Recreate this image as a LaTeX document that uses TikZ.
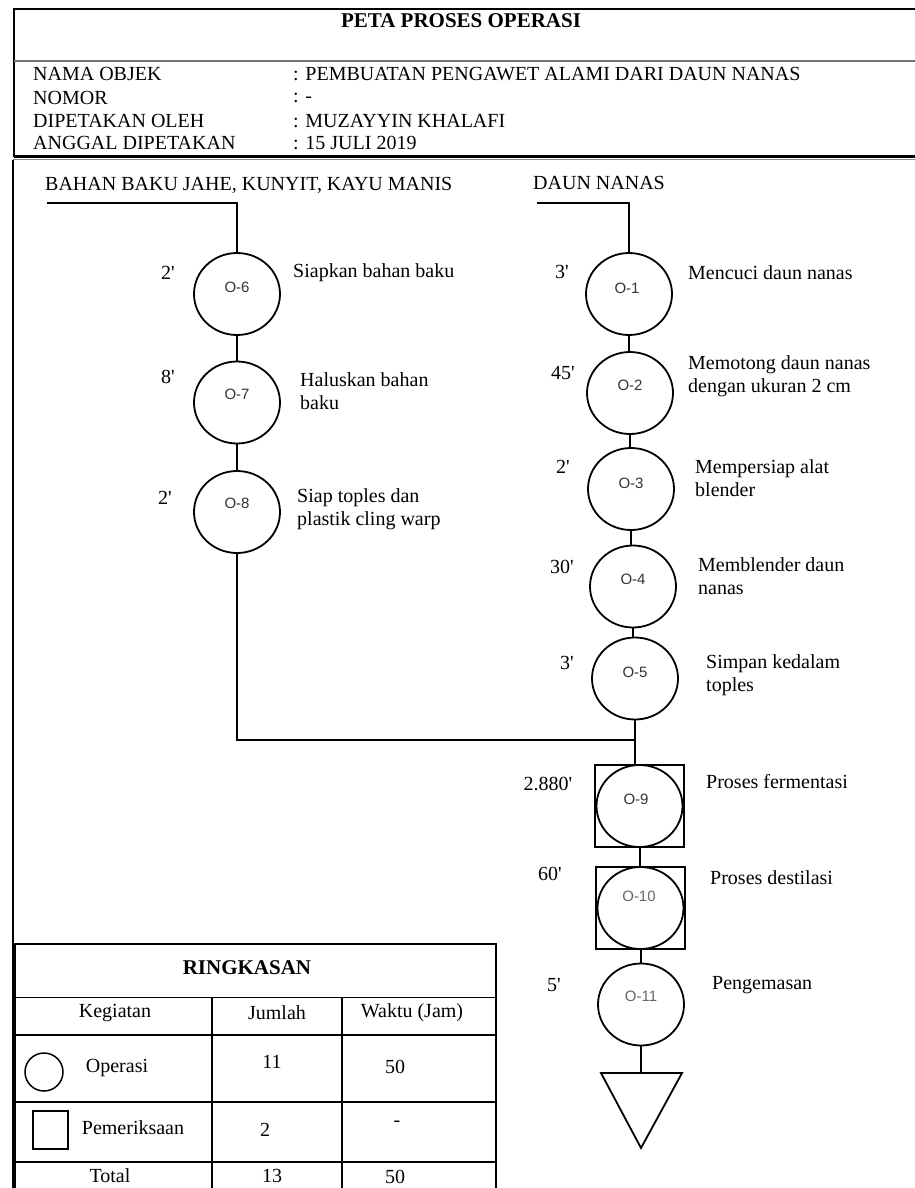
\documentclass[tikz,border=0pt]{standalone}
\usepackage{fontspec}
\setmainfont{Liberation Serif}
\setsansfont{Liberation Sans}
\usetikzlibrary{shapes.geometric}

\begin{document}
\begin{tikzpicture}[x=1pt,y=-1pt,
  txt/.style={font=\fontsize{20}{23.5}\selectfont, inner sep=0pt, align=left},
  desc/.style={txt, anchor=west},
  hd/.style={txt, anchor=west},
  tm/.style={txt},
  boldtxt/.style={font=\bfseries\fontsize{21}{24}\selectfont, inner sep=0pt},
  opc/.style={draw, ellipse, line width=1.8pt, minimum width=86pt, minimum height=82pt, inner sep=0pt},
  insp/.style={draw, rectangle, line width=2pt, minimum width=89pt, minimum height=82pt, inner sep=0pt},
  code/.style={font=\sffamily\fontsize{15}{17}\selectfont, text=black!80, inner sep=0pt},
  link/.style={line width=2pt},
  rule/.style={line width=1.8pt}
]
\useasboundingbox (0,0) rectangle (915,1188);

% ---------- header block ----------
\draw[line width=2pt] (14,157) -- (14,9) -- (915,9);
\draw[line width=2pt, black!55] (14,61) -- (915,61);
\draw[line width=3pt] (14,156.5) -- (915,156.5);
\node[boldtxt] (title) at (461,21) {PETA PROSES OPERASI};

\node[hd] (k1) at (33,74)  {NAMA OBJEK};
\node[hd] (k2) at (33,98)  {NOMOR};
\node[hd] (k3) at (33,121) {DIPETAKAN OLEH};
\node[hd] (k4) at (33,143) {ANGGAL DIPETAKAN};
\node[hd] (v1) at (293,74)  {: PEMBUATAN PENGAWET ALAMI DARI DAUN NANAS};
\node[hd] (v2) at (293,98)  {: -};
\node[hd] (v3) at (293,121) {: MUZAYYIN KHALAFI};
\node[hd] (v4) at (293,143) {: 15 JULI 2019};

% ---------- chart frame ----------
\draw[line width=2pt] (12.5,1188) -- (12.5,159.5);
\draw[line width=1pt, black!45] (12.5,159.8) -- (915,159.8);

% ---------- left branch: spices ----------
\node[desc] (matA) at (45,185) {BAHAN BAKU JAHE, KUNYIT, KAYU MANIS};
\coordinate (headA) at (47,203);

\node[opc] (o6) at (237,294) {};
\node[opc] (o7) at (237,402.5) {};
\node[opc] (o8) at (237,512) {};
\node[code] at (237,287) {O-6};
\node[code] at (237,394) {O-7};
\node[code] at (237,503) {O-8};

\node[tm] (t6) at (168,273) {2\textquotesingle};
\node[tm] (t7) at (168,377) {8\textquotesingle};
\node[tm] (t8) at (165,498) {2\textquotesingle};

\node[desc] (d6) at (293,273) {Siapkan bahan baku};
\node[desc] (d7) at (300,391) {Haluskan bahan\\baku};
\node[desc] (d8) at (297,509) {Siap toples dan\\plastik cling warp};

% ---------- right branch: pineapple leaves ----------
\node[desc] (matB) at (533,183) {DAUN NANAS};
\coordinate (headB) at (537,203);

\node[opc] (o1) at (629,294) {};
\node[opc] (o2) at (630,393) {};
\node[opc] (o3) at (631,489) {};
\node[opc] (o4) at (633,586.5) {};
\node[opc] (o5) at (635,678.5) {};
\node[code] at (627,288) {O-1};
\node[code] at (630,385) {O-2};
\node[code] at (631,483) {O-3};
\node[code] at (633,579) {O-4};
\node[code] at (635,672) {O-5};

\node[tm] (t1) at (562,272) {3\textquotesingle};
\node[tm] (t2) at (563,373) {45\textquotesingle};
\node[tm] (t3) at (563,467) {2\textquotesingle};
\node[tm] (t4) at (562,567) {30\textquotesingle};
\node[tm] (t5) at (567,663) {3\textquotesingle};

\node[desc] (d1) at (688,273) {Mencuci daun nanas};
\node[desc] (d2) at (688,376) {Memotong daun nanas\\dengan ukuran 2 cm};
\node[desc] (d3) at (695,478) {Mempersiap alat\\blender};
\node[desc] (d4) at (698,576) {Memblender daun\\nanas};
\node[desc] (d5) at (706,675) {Simpan kedalam\\toples};

% ---------- joined flow ----------
\node[insp] (s9) at (639.5,806) {};
\node[opc] (o9) at (639.5,806) {};
\node[insp] (s10) at (640.5,908) {};
\node[opc] (o10) at (640.5,908) {};
\node[opc] (o11) at (641,1004.5) {};
\node[code] at (636,799) {O-9};
\node[code, text=black!60] at (639,896) {O-10};
\node[code, text=black!60] at (641,996) {O-11};

\node[tm] (t9)  at (548,784) {2.880\textquotesingle};
\node[tm] (t10) at (550,874) {60\textquotesingle};
\node[tm] (t11) at (554,985) {5\textquotesingle};

\node[desc] (d9)  at (706,782) {Proses fermentasi};
\node[desc] (d10) at (710,878) {Proses destilasi};
\node[desc] (d11) at (712,985) {Pengemasan};

% storage symbol
\coordinate (st) at (641,1073);
\draw[line width=1.8pt] (601,1073) -- (682,1073) -- (641,1148) -- cycle;

% ---------- connectors ----------
\coordinate (jn) at (635,740);
\draw[link] (headA) -- (o6.north |- headA) -- (o6.north);
\draw[link] (o6.south) -- (o7.north);
\draw[link] (o7.south) -- (o8.north);
\draw[link] (o8.south) -- (o8.south |- jn) -- (jn);

\draw[link] (headB) -- (o1.north |- headB) -- (o1.north);
\draw[link] (o1.south) -- (o1.south |- o2.north);
\draw[link] (o2.south) -- (o2.south |- o3.north);
\draw[link] (o3.south) -- (o3.south |- o4.north);
\draw[link] (o4.south) -- (o4.south |- o5.north);
\draw[link] (o5.south) -- (jn) -- (jn |- s9.north);
\draw[link] (s9.south) -- (s9.south |- s10.north);
\draw[link] (s10.south) -- (s10.south |- o11.north);
\draw[link] (o11.south) -- (o11.south |- st);

% ---------- summary table ----------
\draw[line width=2pt] (15,1188) -- (15,944) -- (496,944) -- (496,1188);
\draw[rule] (14,997.5) -- (496,997.5);
\draw[rule] (14,1035) -- (496,1035);
\draw[rule] (14,1102) -- (497,1102);
\draw[rule] (14,1162) -- (496,1162);
\draw[rule] (212,997.5) -- (212,1188);
\draw[rule] (342,997.5) -- (342,1188);

\node[boldtxt] (ring) at (247,968) {RINGKASAN};
\node[txt] (h1) at (115,1013) {Kegiatan};
\node[txt] (h2) at (277,1013) {Jumlah};
\node[txt] (h3) at (412,1013) {Waktu (Jam)};

\node[draw, circle, line width=1.5pt, minimum size=38pt, inner sep=0pt] (symop) at (44,1072) {};
\node[txt] (r1) at (117,1068) {Operasi};
\node[txt] (r1a) at (272,1062) {11};
\node[txt] (r1b) at (395,1067) {50};

\node[draw, rectangle, line width=1.5pt, minimum width=35pt, minimum height=38pt, inner sep=0pt] (symin) at (50.5,1130) {};
\node[txt] (r2) at (133,1128) {Pemeriksaan};
\node[txt] (r2a) at (265,1130) {2};
\node[txt] (r2b) at (397,1124) {-};

\node[txt] (r3) at (110,1176) {Total};
\node[txt] (r3a) at (272,1176) {13};
\node[txt] (r3b) at (395,1177) {50};
\end{tikzpicture}
\end{document}
